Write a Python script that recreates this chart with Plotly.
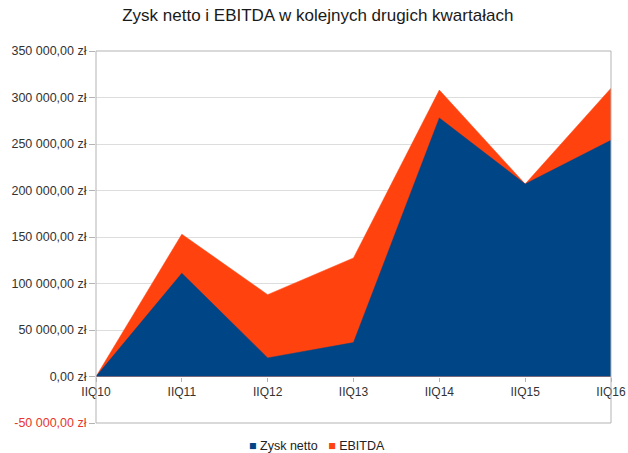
import plotly.graph_objects as go

categories = ["IIQ10", "IIQ11", "IIQ12", "IIQ13", "IIQ14", "IIQ15", "IIQ16"]
zysk_netto = [0, 111000, 20000, 36500, 278000, 207000, 254000]
ebitda = [0, 153000, 88000, 127500, 308000, 207000, 310000]
ytick_vals = [-50000, 0, 50000, 100000, 150000, 200000, 250000, 300000, 350000]
ytick_text = ['<span style="color:#e8352b">-50 000,00 zł</span>', "0,00 zł", "50 000,00 zł",
              "100 000,00 zł", "150 000,00 zł", "200 000,00 zł", "250 000,00 zł",
              "300 000,00 zł", "350 000,00 zł"]
series_names = ["Zysk netto", "EBITDA"]
series_colors = ["#004586", "#ff420e"]

fig = go.Figure()
fig.add_trace(go.Scatter(x=categories, y=ebitda, name=series_names[1], mode="lines",
                         fill="tozeroy", fillcolor=series_colors[1],
                         line=dict(color=series_colors[1], width=0.5), showlegend=False))
fig.add_trace(go.Scatter(x=categories, y=zysk_netto, name=series_names[0], mode="lines",
                         fill="tozeroy", fillcolor=series_colors[0],
                         line=dict(color=series_colors[0], width=0.5), showlegend=False))

legend_text = "   ".join(
    f'<span style="color:{c}">■</span> {n}' for n, c in zip(series_names, series_colors))

fig.update_layout(
    width=628, height=453,
    margin=dict(l=96, r=17, t=51, b=30, autoexpand=False),
    paper_bgcolor="white", plot_bgcolor="white",
    font=dict(family="Liberation Sans, Arial, sans-serif", size=12, color="#333333"),
    title=dict(text="Zysk netto i EBITDA w kolejnych drugich kwartałach", x=0.506, xanchor="center",
               y=1 - 15 / 453, yanchor="middle", font=dict(size=17, color="#1a1a1a")),
    showlegend=False,
    annotations=[dict(text=legend_text, xref="paper", yref="paper", x=0.43, xanchor="center",
                      y=-0.062, yanchor="middle", showarrow=False,
                      font=dict(size=12.5, color="#222222"))],
    xaxis=dict(type="category", range=[0, 6], anchor="free", position=0.125,
               showgrid=False, showline=False, ticks="outside", ticklen=4, tickcolor="#b3b3b3",
               ticklabeloverflow="allow", automargin=False,
               tickfont=dict(size=12, color="#333333")),
    yaxis=dict(range=[-50000, 350000], tickvals=ytick_vals, ticktext=ytick_text,
               showgrid=True, gridcolor="#dddddd", zeroline=False, automargin=False,
               ticks="outside", ticklen=6, tickcolor="#b3b3b3",
               tickfont=dict(size=12.5, color="#333333")),
    shapes=[dict(type="rect", xref="paper", yref="paper", x0=0, x1=1, y0=0, y1=1,
                 line=dict(color="#b3b3b3", width=1), layer="above")],
)

fig.write_html("out.html", config={"displayModeBar": False},
               post_script="document.body.style.margin='0';")
